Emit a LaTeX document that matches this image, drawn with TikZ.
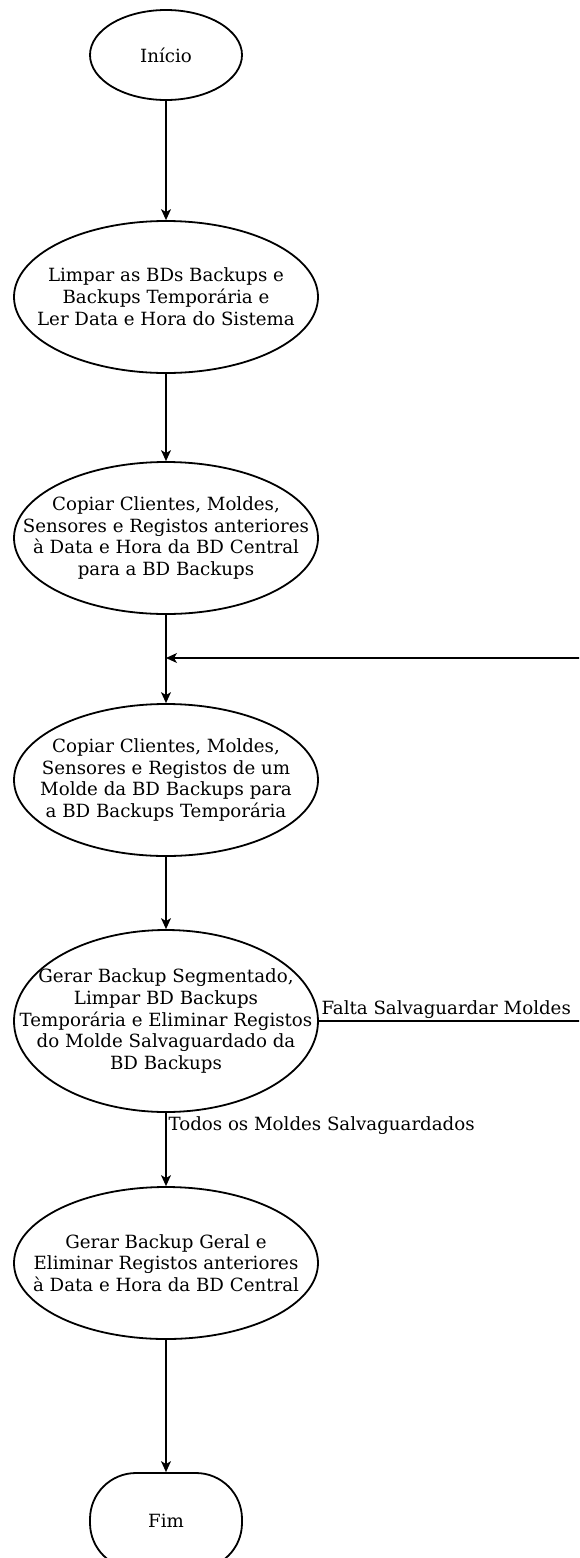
\documentclass[tikz,border=0pt]{standalone}
\usepackage{fontspec}
\setmainfont{DejaVu Serif}
\usepackage{tikz}
\usetikzlibrary{shapes.geometric, arrows.meta, calc}

\begin{document}
\begin{tikzpicture}[x=1pt, y=-1pt,
    etapa/.style={draw, ellipse, line width=1.8pt, inner xsep=-60pt, inner ysep=-30pt,
      align=center, minimum width=304pt, minimum height=152pt,
      font=\fontsize{18.2}{21.8}\selectfont},
    terminal/.style={draw, line width=1.8pt, inner sep=0pt, align=center,
      minimum width=152pt, font=\fontsize{18.2}{21.8}\selectfont},
    fluxo/.style={line width=1.2pt, -{Stealth[length=11pt, width=10pt, inset=3pt]}},
    rotulo/.style={font=\fontsize{18.2}{21.8}\selectfont, inner sep=2pt}]

  \useasboundingbox (0, 0) rectangle (579, 1558);
  \clip (0, 0) rectangle (579, 1558);

  \node[terminal, ellipse, minimum height=90pt] (inicio) at (166, 55) {Início};

  \node[etapa] (limpar) at (166, 297)
    {Limpar as BDs Backups e\\Backups Temporária e\\Ler Data e Hora do Sistema};

  \node[etapa] (copiar1) at (166, 538)
    {Copiar Clientes, Moldes,\\Sensores e Registos anteriores\\à Data e Hora da BD Central\\para a BD Backups};

  \node[etapa] (copiar2) at (166, 780)
    {Copiar Clientes, Moldes,\\Sensores e Registos de um\\Molde da BD Backups para\\a BD Backups Temporária};

  \node[etapa, minimum height=182pt] (segm) at (166, 1021)
    {Gerar Backup Segmentado,\\Limpar BD Backups\\Temporária e Eliminar Registos\\do Molde Salvaguardado da\\BD Backups};

  \node[etapa] (geral) at (166, 1263)
    {Gerar Backup Geral e\\Eliminar Registos anteriores\\à Data e Hora da BD Central};

  \node[terminal, rounded corners=46pt, minimum height=96pt] (fim) at (166, 1521) {Fim};

  \coordinate (volta) at (166, 658);
  \coordinate (canto) at (583, 658);

  \draw[fluxo] (inicio) -- (limpar);
  \draw[fluxo] (limpar) -- (copiar1);
  \draw[fluxo] (copiar1) -- (copiar2);
  \draw[fluxo] (copiar2) -- (segm);
  \draw[fluxo] (segm) -- node[rotulo, right, pos=0.17] {Todos os Moldes Salvaguardados} (geral);
  \draw[fluxo] (geral) -- (fim);

  % ciclo de retorno pela margem direita
  \draw[fluxo] (segm.east) -- node[rotulo, above right, pos=0] {Falta Salvaguardar Moldes}
    (segm.east -| canto) -- (canto) -- (volta);

\end{tikzpicture}
\end{document}
